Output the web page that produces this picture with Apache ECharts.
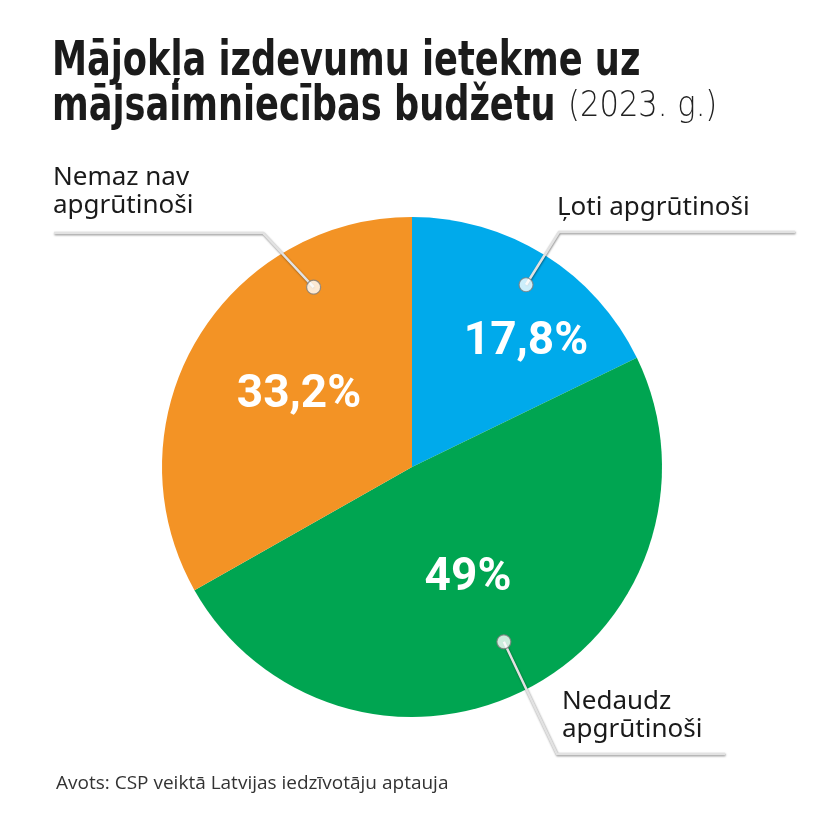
<!DOCTYPE html>
<html>
<head>
<meta charset="utf-8">
<script src="https://cdn.jsdelivr.net/npm/echarts@6/dist/echarts.min.js"></script>
<style>
html,body{margin:0;padding:0;background:#fff;}
#c{width:820px;height:818px;}
</style>
</head>
<body>
<div id="c"></div>
<script>
// ---- data ----
const categories = ['Ļoti apgrūtinoši', 'Nedaudz apgrūtinoši', 'Nemaz nav apgrūtinoši'];
const categoryLabels = ['Ļoti apgrūtinoši', 'Nedaudz\napgrūtinoši', 'Nemaz nav\napgrūtinoši'];
const values = [17.8, 49, 33.2];
const valueLabels = ['17,8%', '49%', '33,2%'];
const titleLine1 = 'Mājokļa izdevumu ietekme uz';
const titleLine2 = 'mājsaimniecības budžetu';
const titleYear = '(2023. g.)';
const sourceText = 'Avots: CSP veiktā Latvijas iedzīvotāju aptauja';

// ---- styling / layout ----
const colors = ['#00AAEB', '#00A551', '#F39325'];
const CENTER = [412, 467];
const RADIUS = 250;
const dotFrac = [0.5, 0.5, 0.76];      // where within the slice the leader starts
const dotRad = [0.86, 0.79, 0.82];     // fraction of radius
const elbows = [[559, 232], [557, 754], [263, 233]];
const lineEnds = [[795, 232], [725, 754], [54, 233]];
const labelAnchors = [
  {x: 557, y: 222, align: 'left'},
  {x: 562, y: 744, align: 'left'},
  {x: 53, y: 220, align: 'left'}
];
const insidePos = [[526, 342], [468, 578], [299, 395]];

const total = values.reduce((a, b) => a + b, 0);
let cum = 0;
const dotData = values.map((v, i) => {
  const a = (cum + v * dotFrac[i]) / total * 100;
  cum += v;
  return [dotRad[i], a];
});

const pieData = values.map((v, i) => ({name: categories[i], value: v, itemStyle: {color: colors[i]}}));

const chart = echarts.init(document.getElementById('c'), null, {renderer: 'canvas'});

const HEAVY = '"DejaVu Sans Condensed", "DejaVu Sans", sans-serif';
const TITLE_SCALE = 0.815;

const baseOption = {
  backgroundColor: '#ffffff',
  animation: false,
  title: [
    {
      text: sourceText,
      left: 51, top: 769,
      textStyle: {fontFamily: '"Open Sans", sans-serif', fontWeight: 'normal', fontSize: 19, color: '#333'}
    }
  ],
  graphic: [
    {
      type: 'text', left: 52, top: 39, scaleX: TITLE_SCALE, originX: 0, originY: 0,
      style: {text: titleLine1, fontFamily: HEAVY, fontWeight: 'bold', fontSize: 48, fill: '#1b1b1b'}
    },
    {
      type: 'text', left: 52, top: 84, scaleX: TITLE_SCALE, originX: 0, originY: 0,
      style: {text: titleLine2, fontFamily: HEAVY, fontWeight: 'bold', fontSize: 48, fill: '#1b1b1b'}
    },
    {
      type: 'text', left: 568, top: 89, scaleX: 0.85, originX: 0, originY: 0,
      style: {text: titleYear, fontFamily: '"DejaVu Sans", sans-serif', fontWeight: 200, fontSize: 36, fill: '#222'}
    }
  ],
  polar: {center: CENTER, radius: RADIUS},
  angleAxis: {type: 'value', min: 0, max: 100, startAngle: 90, clockwise: true, show: false},
  radiusAxis: {type: 'value', min: 0, max: 1, show: false},
  series: [
    {
      type: 'pie',
      center: CENTER,
      radius: RADIUS,
      startAngle: 90,
      clockwise: true,
      silent: true,
      data: pieData,
      label: {
        show: true,
        position: 'inside',
        formatter: p => valueLabels[p.dataIndex],
        color: '#fff',
        fontFamily: 'Roboto, "Liberation Sans", sans-serif',
        fontWeight: 'bold',
        fontSize: 46
      },
      labelLine: {show: false},
      labelLayout: p => ({
        x: insidePos[p.dataIndex][0],
        y: insidePos[p.dataIndex][1],
        align: 'center',
        verticalAlign: 'middle'
      })
    },
    {
      type: 'pie',
      center: CENTER,
      radius: RADIUS,
      startAngle: 90,
      clockwise: true,
      silent: true,
      z: 3,
      data: pieData.map(d => ({name: d.name, value: d.value, itemStyle: {color: 'rgba(0,0,0,0)'}})),
      label: {
        show: true,
        position: 'outside',
        overflow: 'none',
        edgeDistance: 0,
        bleedMargin: 0,
        formatter: p => categoryLabels[p.dataIndex],
        color: '#1a1a1a',
        fontFamily: '"Noto Sans", "Open Sans", sans-serif',
        fontSize: 26,
        lineHeight: 28
      },
      labelLine: {
        show: true,
        lineStyle: {color: '#e2e2e2', width: 2.5, shadowColor: 'rgba(0,0,0,0.45)', shadowBlur: 2, shadowOffsetX: 0.5, shadowOffsetY: 1}
      }
    },
    {
      type: 'scatter',
      coordinateSystem: 'polar',
      zlevel: 1,
      silent: true,
      symbol: 'circle',
      symbolSize: 14,
      itemStyle: {color: '#fff', borderColor: '#7d7d7d', borderWidth: 1.2},
      data: dotData
    }
  ]
};

chart.setOption(baseOption);

const dotPx = dotData.map(d => chart.convertToPixel({seriesIndex: 2}, d));

chart.setOption({
  series: [
    {},
    {
      labelLayout: p => {
        const i = p.dataIndex;
        return {
          x: labelAnchors[i].x,
          y: labelAnchors[i].y,
          align: labelAnchors[i].align,
          verticalAlign: 'bottom',
          labelLinePoints: [dotPx[i], elbows[i], lineEnds[i]]
        };
      }
    },
    {}
  ]
});
</script>
</body>
</html>
